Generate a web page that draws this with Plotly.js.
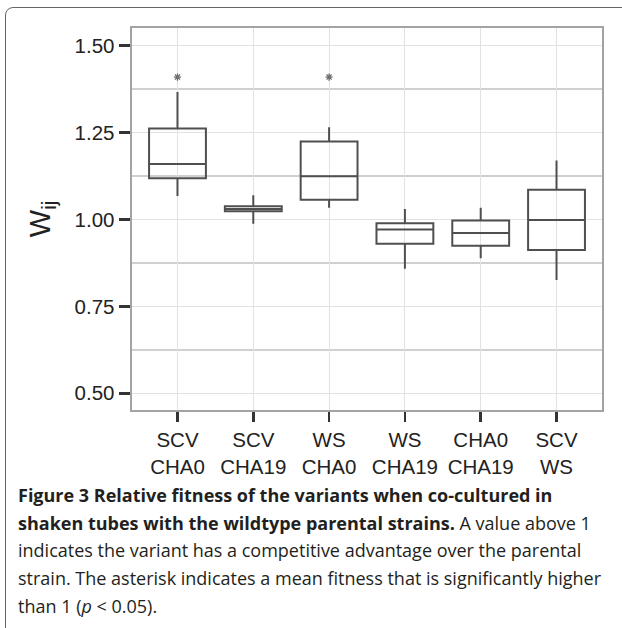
<!DOCTYPE html>
<html>
<head>
<meta charset="utf-8">
<script src="https://cdn.plot.ly/plotly-3.0.1.min.js"></script>
<style>
  html, body { margin: 0; padding: 0; background: #fff; }
  #wrap { position: relative; width: 622px; height: 628px; overflow: hidden; }
  #chart { position: absolute; left: 0; top: 0; width: 622px; height: 628px; }
  #frame { position: absolute; left: 5px; top: 7px; width: 640px; height: 640px;
           border: 1.5px solid #666; border-radius: 8px; pointer-events: none; }
  #caption { position: absolute; left: 18px; top: 482px; font-family: "Open Sans", "Noto Sans", sans-serif;
             font-size: 18px; color: #231f20; line-height: 27.7px; }
  #caption .ln { display: block; white-space: nowrap; transform-origin: 0 50%; }
  #caption b { font-weight: 700; }
</style>
</head>
<body>
<div id="wrap">
  <div id="chart"></div>
  <div id="frame"></div>
  <div id="caption">
    <span class="ln"><b>Figure 3 Relative fitness of the variants when co-cultured in</b></span>
    <span class="ln"><b>shaken tubes with the wildtype parental strains.</b> A value above 1</span>
    <span class="ln" id="refline">indicates the variant has a competitive advantage over the parental</span>
    <span class="ln">strain. The asterisk indicates a mean fitness that is significantly higher</span>
    <span class="ln">than 1 (<i>p</i> &lt; 0.05).</span>
  </div>
</div>
<script>
// Data
const categories = ["SCV<br>CHA0", "SCV<br>CHA19", "WS<br>CHA0", "WS<br>CHA19", "CHA0<br>CHA19", "SCV<br>WS"];
const lowerWhisker = [1.067, 0.987, 1.033, 0.858, 0.888, 0.826];
const q1Values     = [1.118, 1.023, 1.056, 0.930, 0.924, 0.912];
const medianValues = [1.159, 1.030, 1.124, 0.971, 0.961, 0.998];
const q3Values     = [1.261, 1.038, 1.224, 0.989, 0.997, 1.085];
const upperWhisker = [1.366, 1.069, 1.265, 1.030, 1.033, 1.169];
const sigCategories = ["SCV<br>CHA0", "WS<br>CHA0"];
const sigY = [1.409, 1.409];
const yTickVals = [0.5, 0.75, 1.0, 1.25, 1.5];
const yTickText = ["0.50", "0.75", "1.00", "1.25", "1.50"];

const boxTrace = {
  type: "box",
  x: categories,
  q1: q1Values,
  median: medianValues,
  q3: q3Values,
  lowerfence: lowerWhisker,
  upperfence: upperWhisker,
  width: 0.75,
  fillcolor: "rgba(255,255,255,0)",
  line: { color: "#4f4f4f", width: 2 },
  whiskerwidth: 0,
  boxpoints: false,
  hoverinfo: "skip",
  showlegend: false
};

const sigTrace = {
  type: "scatter",
  mode: "markers",
  x: sigCategories,
  y: sigY,
  marker: { symbol: "asterisk-open", size: 6, line: { color: "#6e6e6e", width: 1.3 }, color: "#6e6e6e" },
  hoverinfo: "skip",
  showlegend: false
};

const tickFont = { family: "Liberation Sans, Arial, sans-serif", size: 20.5, color: "#222222" };

const layout = {
  width: 622, height: 628,
  margin: { l: 132, r: 20, t: 28, b: 218, pad: 0 },
  paper_bgcolor: "rgba(0,0,0,0)",
  plot_bgcolor: "#ffffff",
  showlegend: false,
  xaxis: {
    type: "category",
    categoryorder: "array",
    categoryarray: categories,
    range: [-0.6, 5.6],
    showgrid: true, gridcolor: "#e2e2e2", gridwidth: 1,
    ticks: "outside", ticklen: 10, tickwidth: 2.5, tickcolor: "#333333",
    showline: true, mirror: true, linecolor: "#a3a3a3", linewidth: 2.4,
    zeroline: false,
    tickfont: tickFont,
    fixedrange: true
  },
  yaxis: {
    range: [0.452, 1.55],
    tickvals: yTickVals, ticktext: yTickText,
    showgrid: true, gridcolor: "#e2e2e2", gridwidth: 1,
    minor: { tick0: 0.125, dtick: 0.25, showgrid: true, gridcolor: "#d0d0d0", gridwidth: 2.2, ticks: "" },
    ticks: "outside", ticklen: 11, tickwidth: 2.5, tickcolor: "#333333",
    showline: true, mirror: true, linecolor: "#a3a3a3", linewidth: 2.4,
    zeroline: false,
    tickfont: tickFont,
    title: { text: "W<sub>ij</sub>", font: { family: "Liberation Sans, Arial, sans-serif", size: 29, color: "#222222" }, standoff: 16 },
    fixedrange: true
  }
};

Plotly.newPlot("chart", [boxTrace, sigTrace], layout, { displayModeBar: false, staticPlot: true });

// fit caption lines to the reference width
const ref = document.getElementById("refline");
const w = ref.getBoundingClientRect().width;
const k = 583 / w;
document.querySelectorAll("#caption .ln").forEach(el => { el.style.transform = "scaleX(" + k + ")"; });
</script>
</body>
</html>
